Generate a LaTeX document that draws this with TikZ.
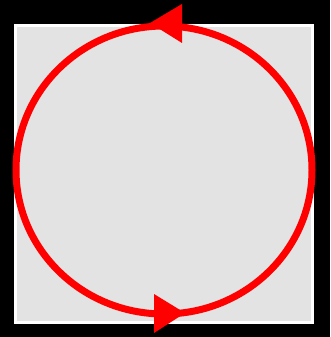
\documentclass[tikz,border=0pt]{standalone}
\usepackage{xcolor}
\definecolor{panelgray}{RGB}{227,227,227}
\definecolor{loopred}{RGB}{255,0,0}
\begin{document}
\begin{tikzpicture}[x=1pt,y=-1pt,
        loop/.style={draw=loopred,line width=7pt},
        tip/.style={fill=loopred}]
        % page and panel
        \fill[black] (0,0) rectangle (330,337);
        \useasboundingbox (0,0) rectangle (330,337);
        \fill[white] (14,24) rectangle (314,324);
        \fill[panelgray] (17,27) rectangle (311,321);
        % the loop
        \draw[loop] (164,170) ellipse [x radius=148,y radius=144];
        % direction marks
        \fill[tip] (150,23) -- (182,4) -- (182,43) -- cycle;
        \fill[tip] (185,313) -- (154,294) -- (154,333) -- cycle;
      \end{tikzpicture}
\end{document}
